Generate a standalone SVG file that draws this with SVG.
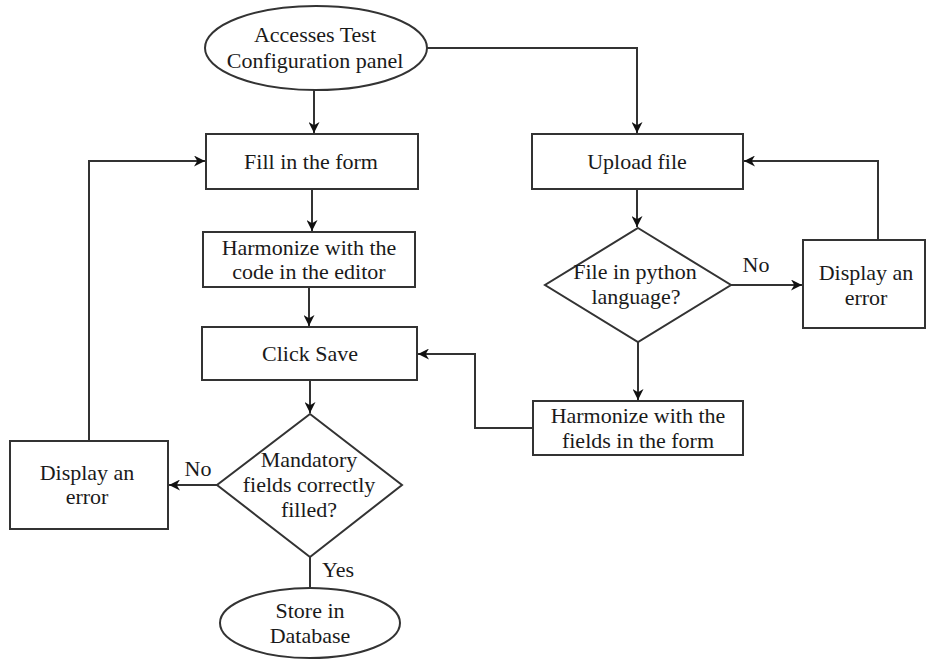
<svg xmlns="http://www.w3.org/2000/svg" width="927" height="659" viewBox="0 0 927 659">
<defs>
<style>
.s{fill:#fff;stroke:#333;stroke-width:2}
.c{fill:none;stroke:#333;stroke-width:2}
text{font-family:"Liberation Serif","Times New Roman",serif;font-size:22px;fill:#1a1a1a;text-anchor:middle}
</style>
<marker id="a" viewBox="0 0 10 10" refX="10" refY="5" markerWidth="11" markerHeight="11" markerUnits="userSpaceOnUse" orient="auto">
<path d="M0,0 L10,5 L0,10 L3,5 z" fill="#111"/>
</marker>
</defs>
<g id="connectors">
<path class="c" d="M314,90 V133" marker-end="url(#a)"/>
<path class="c" d="M427,48 H637 V133" marker-end="url(#a)"/>
<path class="c" d="M312,189 V231" marker-end="url(#a)"/>
<path class="c" d="M309,287 V326" marker-end="url(#a)"/>
<path class="c" d="M310,380 V413" marker-end="url(#a)"/>
<path class="c" d="M217,485 H169" marker-end="url(#a)"/>
<path class="c" d="M89,441 V161 H205" marker-end="url(#a)"/>
<path class="c" d="M310,557 V588"/>
<path class="c" d="M637,189 V227" marker-end="url(#a)"/>
<path class="c" d="M731,285 H802" marker-end="url(#a)"/>
<path class="c" d="M878,240 V161 H744" marker-end="url(#a)"/>
<path class="c" d="M638,342 V400" marker-end="url(#a)"/>
<path class="c" d="M533,428 H475 V354 H418" marker-end="url(#a)"/>
<text x="198" y="476">No</text>
<text x="338" y="577">Yes</text>
<text x="756" y="272">No</text>
</g>
<g id="start">
<ellipse class="s" cx="316" cy="48" rx="111" ry="42"/>
<text x="315" y="42">Accesses Test</text>
<text x="315" y="68">Configuration panel</text>
</g>
<g id="fill-form">
<rect class="s" x="206" y="134" width="212" height="55"/>
<text x="311" y="169">Fill in the form</text>
</g>
<g id="harmonize-code">
<rect class="s" x="203" y="232" width="212" height="55"/>
<text x="309" y="255">Harmonize with the</text>
<text x="309" y="279">code in the editor</text>
</g>
<g id="click-save">
<rect class="s" x="202" y="327" width="215" height="53"/>
<text x="310" y="361">Click Save</text>
</g>
<g id="mandatory">
<polygon class="s" points="310,414 402,485 310,557 217,485"/>
<text x="309" y="467">Mandatory</text>
<text x="309" y="492">fields correctly</text>
<text x="309" y="517">filled?</text>
</g>
<g id="error-left">
<rect class="s" x="10" y="441" width="158" height="88"/>
<text x="87" y="480">Display an</text>
<text x="87" y="504">error</text>
</g>
<g id="store">
<ellipse class="s" cx="310" cy="623" rx="90" ry="35"/>
<text x="310" y="618">Store in</text>
<text x="310" y="643">Database</text>
</g>
<g id="upload">
<rect class="s" x="532" y="134" width="211" height="55"/>
<text x="637" y="169">Upload file</text>
</g>
<g id="python">
<polygon class="s" points="638,228 731,285 638,342 545,285"/>
<text x="635" y="279">File in python</text>
<text x="636" y="304">language?</text>
</g>
<g id="error-right">
<rect class="s" x="803" y="240" width="122" height="88"/>
<text x="866" y="280">Display an</text>
<text x="866" y="305">error</text>
</g>
<g id="harmonize-fields">
<rect class="s" x="533" y="401" width="210" height="54"/>
<text x="638" y="423">Harmonize with the</text>
<text x="638" y="448">fields in the form</text>
</g>
</svg>
